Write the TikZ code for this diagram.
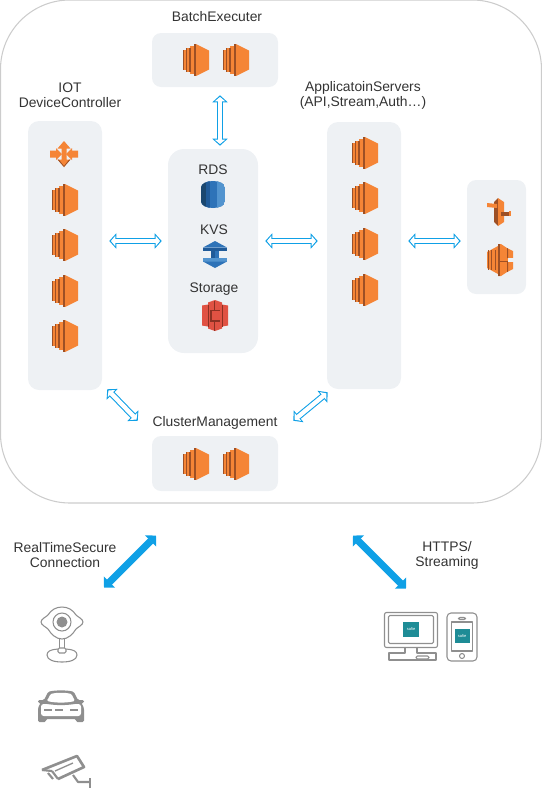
\documentclass[tikz,border=0pt]{standalone}
\usepackage{fontspec}
\setmainfont{Liberation Sans}
\usetikzlibrary{arrows.meta}
\definecolor{panelgray}{HTML}{EEF1F4}
\definecolor{cloudline}{HTML}{CCCCCC}
\definecolor{linkblue}{HTML}{0FA0E6}
\definecolor{labelgray}{HTML}{333333}
\definecolor{awsorange}{HTML}{F58536}
\definecolor{awsbrown}{HTML}{9D5025}
\definecolor{awsblue}{HTML}{2E73B8}
\definecolor{awsnavy}{HTML}{205B99}
\definecolor{awsdeep}{HTML}{1A476F}
\definecolor{awssky}{HTML}{5294CF}
\definecolor{awsred}{HTML}{E05243}
\definecolor{awsdark}{HTML}{8C3123}
\definecolor{devgray}{HTML}{8F8F8F}
\definecolor{safieteal}{HTML}{1E8C96}
\tikzset{
	panel/.style n args={3}{fill=panelgray, rounded corners=#3*.75pt, inner sep=0pt,
		minimum width=#1*.75pt, minimum height=#2*.75pt},
	caption/.style={text=labelgray, font=\fontsize{10.4}{11.3}\selectfont, align=center, inner sep=0pt},
	hollowlink/.style={draw=linkblue, line width=4.9pt,
		{Triangle[length=5.25pt,width=11.25pt]}-{Triangle[length=5.25pt,width=11.25pt]},
		postaction={draw=white, line width=3.3pt, shorten <=1.3pt, shorten >=1.3pt,
			{Triangle[length=3.2pt,width=7.6pt]}-{Triangle[length=3.2pt,width=7.6pt]}}},
	thicklink/.style={draw=linkblue, line width=5.3pt,
		{Triangle[length=5.8pt,width=11.6pt]}-{Triangle[length=5.8pt,width=11.6pt]}},
	devline/.style={draw=devgray, line width=.8pt, line join=round},
	camline/.style={draw=devgray, line width=1.6pt, line join=round},
	pics/ec2/.style={code={
		\fill [awsorange] (0,-16) -- (13,-9.5) -- (13,9.5) -- (0,16) -- cycle;
		\fill [awsorange] (-13,-10) rectangle (-9.5,10);
		\fill [awsorange] (-9.5,-12) rectangle (-6,12);
		\fill [awsorange] (-6,-14) rectangle (-2,14);
		\fill [awsbrown] (-2.2,-16) rectangle (.3,16);
		\foreach \s in {-10.2,-6.7} {
			\fill [awsbrown] (\s,-12) rectangle (\s+1.2,12);
		}
		\fill [awsbrown] (-13,-10) rectangle (-12,10);
	}},
	pics/router/.style={code={
		\fill [awsorange] (0,-13) -- (6.5,-5.5) -- (2.5,-5.5) -- (2.5,5.5) -- (6.5,5.5) -- (0,13) -- (-6.5,5.5) -- (-2.5,5.5) -- (-2.5,-5.5) -- (-6.5,-5.5) -- cycle;
		\fill [awsorange] (-14,-3.5) -- (-8,-3.5) -- (-8,-6) -- (-2,0) -- (-8,6) -- (-8,3.5) -- (-14,3.5) -- cycle;
		\fill [awsorange] (14,-3.5) -- (8,-3.5) -- (8,-6) -- (2,0) -- (8,6) -- (8,3.5) -- (14,3.5) -- cycle;
		\fill [awsbrown] (-6.5,5.5) -- (0,13) -- (0,12) -- (-5.2,5.5) -- cycle;
		\fill [awsbrown] (6.5,5.5) -- (0,13) -- (0,12) -- (5.2,5.5) -- cycle;
	}},
	pics/rds/.style={code={
		\begin{scope}
			\clip (-12,-7) .. controls (-12,-11) and (-6,-13.5) .. (0,-13.5)
				.. controls (6,-13.5) and (12,-11) .. (12,-7) -- (12,7)
				.. controls (12,11) and (6,13.5) .. (0,13.5)
				.. controls (-6,13.5) and (-12,11) .. (-12,7) -- cycle;
			\fill [awsblue] (-12,-14) rectangle (12,14);
			\fill [awsdeep] (-12,-14) rectangle (-7,14);
			\fill [awsnavy] (-7,-14) rectangle (-3,14);
			\fill [awssky] (4,-14) rectangle (12,14);
		\end{scope}
	}},
	pics/kvs/.style={code={
		\fill [awsnavy] (-4,-4) rectangle (0,5);
		\fill [awsblue] (0,-4) rectangle (4,5);
		\fill [awsblue] (0,-13.5) -- (12,-7) -- (-12,-7) -- cycle;
		\fill [awsnavy] (-12,-7) rectangle (12,-3.5);
		\fill [awssky] (-12,3.5) rectangle (12,7);
		\fill [awsblue] (-12,7) -- (12,7) -- (0,13.5) -- cycle;
	}},
	pics/stbucket/.style={code={
		\fill [awsred] (-13,-10) -- (-7,-11) -- (-7,-13) -- (0,-15.5) -- (7,-13) -- (7,-11) -- (13,-10) -- (13,10) -- (7,11) -- (7,13) -- (0,15.5) -- (-7,13) -- (-7,11) -- (-13,10) -- cycle;
		\fill [awsdark] (-7,-11) rectangle (-6,11);
		\fill [awsdark] (7,-11) rectangle (8,11);
		\fill [awsdark] (-5,-6) rectangle (5,-4.5);
		\fill [awsdark] (-5,4.5) rectangle (5,6);
		\fill [awsdark] (-1,-15) rectangle (0,-6);
		\fill [awsdark] (-1,6) rectangle (0,15);
		\fill [awsdark] (-5,-6) rectangle (-3.5,6);
	}},
	pics/iam/.style={code={
		\fill [awsbrown] (-5,-10) -- (-1,-14) -- (-1,14) -- (-5,10) -- cycle;
		\fill [awsorange] (-1,-14) -- (5,-10) -- (5,10) -- (-1,14) -- cycle;
		\fill [awsorange] (-12,-9) -- (-2,-8) -- (-2,-4) -- (-12,-5) -- cycle;
		\fill [awsbrown] (2,-.5) rectangle (12,4);
		\fill [awsorange] (10,-1) rectangle (12,4);
	}},
	pics/hexstack/.style={code={
		\fill [awsorange] (-2,-16) -- (1,-16) -- (7,-12) -- (13,-9) -- (13,-2) -- (-2,-2) -- cycle;
		\fill [awsorange] (-2,16) -- (1,16) -- (7,12) -- (13,9) -- (13,2) -- (-2,2) -- cycle;
		\fill [awsorange] (-13,-8) -- (-2,-14) -- (-2,14) -- (-13,8) -- cycle;
		\foreach \s in {-12.5,-9,-5.5} {
			\fill [awsbrown] (\s,-10) rectangle (\s+.9,10);
		}
		\fill [awsbrown] (-2.5,-16) rectangle (-.5,16);
		\fill [awsorange] (-.5,-2) rectangle (8,2);
		\fill [awsbrown] (-.5,.8) rectangle (8,2);
		\fill [panelgray] (8,-2) rectangle (13.5,2);
		\fill [awsbrown] (7,-12) -- (8.2,-11.4) -- (8.2,-2) -- (7,-2) -- cycle;
		\fill [awsbrown] (7,12) -- (8.2,11.4) -- (8.2,2) -- (7,2) -- cycle;
	}},
	pics/webcam/.style={code={
		\draw [devline] (-21,0) .. controls (-21,-3) and (-16,-5) .. (-14,-7)
			.. controls (-11,-12) and (-6,-15) .. (0,-15)
			.. controls (6,-15) and (11,-12) .. (14,-7)
			.. controls (16,-5) and (21,-3) .. (21,0)
			.. controls (21,3) and (16,5) .. (14,7)
			.. controls (11,12) and (6,17) .. (0,17)
			.. controls (-6,17) and (-11,12) .. (-14,7)
			.. controls (-16,5) and (-21,3) .. (-21,0) -- cycle;
		\draw [devline] (0,0) circle (9);
		\fill [devgray] (0,0) circle (5.5);
		\draw [devline] (-2.5,17) -- (-2.5,26) (2.5,17) -- (2.5,26);
		\draw [devline, rounded corners=1pt] (-4,26) rectangle (4,31);
		\draw [devline] (-4,27) .. controls (-11,27.5) and (-15,29) .. (-15,33)
			.. controls (-15,38) and (-8,40) .. (0,40)
			.. controls (8,40) and (15,38) .. (15,33)
			.. controls (15,29) and (11,27.5) .. (4,27);
	}},
	pics/sedan/.style={code={
		\fill [devgray, rounded corners=1pt] (-17,-6) -- (-13,-14) .. controls (-7,-16) and (7,-16) .. (13,-14)
			-- (17,-6) -- (23,-6) -- (23,-3) -- (20,-3) .. controls (22,-1) and (23,2) .. (23,5) -- (23,16) -- (15,16) -- (15,13) -- (-15,13) -- (-15,16) -- (-23,16) -- (-23,5)
			.. controls (-23,2) and (-22,-1) .. (-20,-3) -- (-23,-3) -- (-23,-6) -- cycle;
		\fill [white, rounded corners=1pt] (-14,-5) -- (-10.5,-12) .. controls (-5,-13.5) and (5,-13.5) .. (10.5,-12) -- (14,-5) .. controls (5,-3) and (-5,-3) .. (-14,-5) -- cycle;
		\fill [white, rounded corners=2pt] (-20,-2) -- (20,-2) -- (20,10) -- (-20,10) -- cycle;
		\foreach \s in {-17,-6,9} {
			\fill [devgray] (\s,3.2) rectangle (\s+8,5.2);
		}
		\fill [devgray] (-15,-2.2) .. controls (-5,-.5) and (5,-.5) .. (15,-2.2) -- cycle;
	}},
	pics/cctv/.style={code={
		\draw [camline, line width=2pt] (-24,-3) -- (11,-17) -- (18,-6) -- (-8,6);
		\draw [camline, line width=1pt] (-11,-2) -- (7,-10);
		\draw [camline] (-18,0) -- (-13,6);
		\draw [camline] (-14,-2) -- (-8,6);
		\draw [camline] (-14,-2) -- (-24,-3);
		\draw [camline] (7,2) -- (12,9) -- (24,9);
		\draw [camline, line width=2pt] (24,5) -- (24,15);
	}},
	pics/desktop/.style={code={
		\draw [devline, rounded corners=1.5pt] (-26.5,-17.5) rectangle (26.5,17.5);
		\draw [devline, rounded corners=1pt] (-22.5,-14.5) rectangle (22.5,13.5);
		\draw [devline] (-6,17.5) -- (-6,23) -- (-22,23) -- (-22,30) -- (25,30) -- (25,23) -- (6,23) -- (6,17.5);
		\draw [devline, rounded corners=1pt] (5,26) rectangle (18,29);
	}},
	pics/mobile/.style={code={
		\draw [devline, rounded corners=3pt] (-15,-24) rectangle (15,24);
		\draw [devline] (-10.5,-15) rectangle (10.5,14);
		\draw [devline, rounded corners=1pt] (-3.5,-19.5) rectangle (3.5,-17.5);
		\draw [devline] (0,19) circle (2.5);
	}},
}
\begin{document}
\begin{tikzpicture}[x=.75pt, y=-.75pt]
	\useasboundingbox (0,0) rectangle (542,800);
	\node [draw=cloudline, line width=.8pt, rounded corners=52pt, inner sep=0pt,
		minimum width=541*.75pt, minimum height=503*.75pt] (cloud) at (271,251.5) {};

	\node [panel={126}{54}{9}] (batchbox) at (215,60) {};
	\node [panel={74}{269}{11}] (iotbox) at (65,255.5) {};
	\node [panel={90}{204}{16}] (databox) at (213,251) {};
	\node [panel={74}{267}{11}] (appbox) at (364,255.5) {};
	\node [panel={59}{114}{9}] (edgebox) at (496.5,237) {};
	\node [panel={126}{55}{9}] (clusterbox) at (215,463.5) {};

	\node [caption] (batchlabel) at (217,17) {BatchExecuter};
	\node [caption] (iotlabel) at (70,95) {IOT\\DeviceController};
	\node [caption] (applabel) at (363,95) {ApplicatoinServers\\(API,Stream,Auth…)};
	\node [caption] (clusterlabel) at (215,423) {ClusterManagement};
	\node [caption] (rdslabel) at (213,169.5) {RDS};
	\node [caption] (kvslabel) at (214,230) {KVS};
	\node [caption] (storagelabel) at (214,289.5) {Storage};
	\node [caption] (securelabel) at (65,555) {RealTimeSecure\\Connection};
	\node [caption] (httpslabel) at (447,555.5) {HTTPS/\\Streaming};

	\pic at (64,154) {router};
	\foreach \y in {200,245,291,336} {
		\pic at (65,\y) {ec2};
	}
	\foreach \y in {153,198,244,290} {
		\pic at (365,\y) {ec2};
	}
	\foreach \x in {196,236} {
		\pic at (\x,60) {ec2};
		\pic at (\x,464) {ec2};
	}
	\pic at (213,194.5) {rds};
	\pic at (215,254.5) {kvs};
	\pic at (215,315.5) {stbucket};
	\pic at (499,212) {iam};
	\pic at (500,260) {hexstack};

	\draw [hollowlink] ([shift={(5,8)}]batchbox.south) -- ([shift={(7,-3)}]databox.north);
	\draw [hollowlink] ([shift={(7,-14.5)}]iotbox.east) -- ([shift={(-6,-10)}]databox.west);
	\draw [hollowlink] ([shift={(7,-10)}]databox.east) -- ([shift={(-9,-14.5)}]appbox.west);
	\draw [hollowlink] ([shift={(7,-14.5)}]appbox.east) -- ([shift={(-6,4)}]edgebox.west);
	\draw [hollowlink] ([shift={(5,-1)}]iotbox.south east) -- ([shift={(-14,-15)}]clusterbox.north west);
	\draw [hollowlink] ([shift={(1,3)}]appbox.south west) -- ([shift={(15,-15)}]clusterbox.north east);

	\draw [thicklink] ([shift={(-167,84)}]cloud.south) -- ([shift={(-115,32)}]cloud.south);
	\draw [thicklink] ([shift={(82,32)}]cloud.south) -- ([shift={(135,85)}]cloud.south);

	\pic at (62,622) {webcam};
	\pic at (61,706) {sedan};
	\pic at (66,773) {cctv};
	\pic at (411,630) {desktop};
	\pic at (462,637) {mobile};

	\node [fill=safieteal, text=white, font=\fontsize{3}{3}\selectfont, inner sep=0pt,
		minimum width=16*.75pt, minimum height=15*.75pt] (safiescreen) at (411,629.5) {safie};
	\node [fill=safieteal, text=white, font=\fontsize{3}{3}\selectfont, inner sep=0pt,
		minimum width=15*.75pt, minimum height=14*.75pt] (safiephone) at (462,636) {safie};
\end{tikzpicture}
\end{document}
